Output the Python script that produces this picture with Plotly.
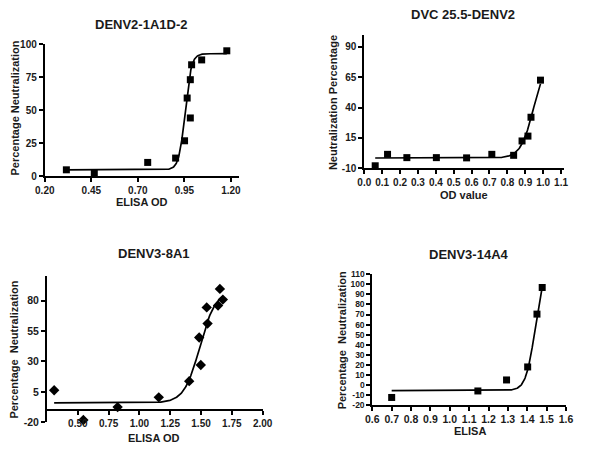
import numpy as np
import plotly.graph_objects as go

W, H = 591, 458

# ---------------- data ----------------
p1_title = "DENV2-1A1D-2"
p1_x = [0.316, 0.466, 0.753, 0.903, 0.951, 0.965, 0.982, 0.982, 0.989, 1.043, 1.178]
p1_y = [5.0, 2.5, 10.6, 13.9, 27.0, 59.4, 73.3, 44.3, 84.6, 88.3, 95.2]
p1_fit = dict(bottom=5.0, top=93.0, ec50=0.954, hill=25.8)
p1_xticks = [0.20, 0.45, 0.70, 0.95, 1.20]
p1_yticks = [0, 25, 50, 75, 100]

p2_title = "DVC 25.5-DENV2"
p2_x = [0.061, 0.130, 0.238, 0.403, 0.572, 0.713, 0.835, 0.882, 0.915, 0.932, 0.985]
p2_y = [-7.9, 1.5, -1.2, -1.2, -1.4, 1.5, 0.7, 12.5, 16.5, 32.0, 62.5]
p2_fit = dict(bottom=-1.5, top=80.0, ec50=0.946, hill=12.1)
p2_xticks = [0.0, 0.1, 0.2, 0.3, 0.4, 0.5, 0.6, 0.7, 0.8, 0.9, 1.0, 1.1]
p2_yticks = [-10, 15, 40, 65, 90]

p3_title = "DENV3-8A1"
p3_x = [0.308, 0.545, 0.823, 1.157, 1.404, 1.485, 1.498, 1.546, 1.553, 1.638, 1.653, 1.677]
p3_y = [6.3, -18.1, -7.5, 0.5, 13.8, 49.7, 27.1, 74.4, 61.1, 76.0, 89.6, 80.8]
p3_fit = dict(bottom=-4.0, top=88.0, ec50=1.49, hill=6.8)
p3_xticks = [0.50, 0.75, 1.00, 1.25, 1.50, 1.75, 2.00]
p3_yticks = [-20, 5, 30, 55, 80]

p4_title = "DENV3-14A4"
p4_x = [0.70, 1.145, 1.293, 1.402, 1.450, 1.477]
p4_y = [-12.9, -6.4, 4.6, 17.6, 70.4, 97.0]
p4_fit = dict(bottom=-6.0, top=120.0, ec50=1.441, hill=18.3)
p4_xticks = [0.6, 0.7, 0.8, 0.9, 1.0, 1.1, 1.2, 1.3, 1.4, 1.5, 1.6]
p4_yticks = list(range(-20, 111, 10))


def logistic(xs, p):
    xs = np.asarray(xs)
    return p["bottom"] + (p["top"] - p["bottom"]) / (1 + 10 ** ((p["ec50"] - xs) * p["hill"]))


def px_dom_x(a, b):
    return [a / W, b / W]


def px_dom_y(top, bottom):
    return [1 - bottom / H, 1 - top / H]


def bold_labels(vals, fmt):
    return [f"<b>{format(v, fmt)}</b>" for v in vals]


FONT = "Liberation Sans"
fig = go.Figure()

panels = [
    dict(x=p1_x, y=p1_y, fit=p1_fit, sym="square", xd=px_dom_x(36, 237.3), yd=px_dom_y(39.5, 175),
         xr=[0.2, 1.245], yr=[0, 100], xt=p1_xticks, yt=p1_yticks, xf=".2f", xfs=10, yfs=10),
    dict(x=p2_x, y=p2_y, fit=p2_fit, sym="square", xd=px_dom_x(366.7, 573.3), yd=px_dom_y(29.3, 166.7),
         xr=[0.0, 1.116], yr=[-10, 100], xt=p2_xticks, yt=p2_yticks, xf=".1f", xfs=10, yfs=10),
    dict(x=p3_x, y=p3_y, fit=p3_fit, sym="diamond", xd=px_dom_x(38.3, 261.5), yd=px_dom_y(277.5, 427.5),
         xr=[0.25, 2.0], yr=[-20, 100], xt=p3_xticks, yt=p3_yticks, xf=".2f", xfs=10, yfs=10.5),
    dict(x=p4_x, y=p4_y, fit=p4_fit, sym="square", xd=px_dom_x(375, 575.5), yd=px_dom_y(275.7, 409.3),
         xr=[0.6, 1.6], yr=[-20, 110], xt=p4_xticks, yt=p4_yticks, xf=".1f", xfs=10.5, yfs=8.5),
]

layout = {}
for i, p in enumerate(panels, start=1):
    xa = "x" if i == 1 else f"x{i}"
    ya = "y" if i == 1 else f"y{i}"
    xs = np.linspace(min(p["x"]), max(p["x"]), 300)
    fig.add_trace(go.Scatter(x=xs, y=logistic(xs, p["fit"]), mode="lines",
                             line=dict(color="black", width=1.7), xaxis=xa, yaxis=ya,
                             showlegend=False, hoverinfo="skip"))
    fig.add_trace(go.Scatter(x=p["x"], y=p["y"], mode="markers",
                             marker=dict(symbol=p["sym"], size=7 if p["sym"] == "square" else 8,
                                         color="black"),
                             xaxis=xa, yaxis=ya, showlegend=False, cliponaxis=False))
    xkey = "xaxis" if i == 1 else f"xaxis{i}"
    ykey = "yaxis" if i == 1 else f"yaxis{i}"
    xaxis = dict(domain=p["xd"], range=p["xr"], tickvals=p["xt"], ticktext=bold_labels(p["xt"], p["xf"]),
                 showline=True, linecolor="black", linewidth=2, ticks="outside",
                 ticklen=4, tickwidth=1.5, tickcolor="black", showgrid=False, zeroline=False,
                 tickfont=dict(family=FONT, size=p["xfs"], color="#1a1a1a"),
                 anchor=ya)
    yaxis = dict(domain=p["yd"], range=p["yr"], tickvals=p["yt"], ticktext=bold_labels(p["yt"], "d"),
                 showline=True, linecolor="black", linewidth=2, ticks="outside",
                 ticklen=4, tickwidth=1.5, tickcolor="black", showgrid=False, zeroline=False,
                 tickfont=dict(family=FONT, size=p["yfs"], color="#1a1a1a"),
                 anchor=xa)
    if i == 3:
        # x axis crosses the y axis at -10
        yd = p["yd"]
        frac = (-10 - p["yr"][0]) / (p["yr"][1] - p["yr"][0])
        xaxis["anchor"] = "free"
        xaxis["position"] = yd[0] + frac * (yd[1] - yd[0])
    layout[xkey] = xaxis
    layout[ykey] = yaxis

fig.update_layout(**layout)

# titles and axis labels (pixel-positioned)
texts = [
    (p1_title, 136, 19, 13, 0), ("ELISA OD", 136.7, 201.7, 11, 0), ("Percentage Neutralization", 5.5, 105, 11, -90),
    (p2_title, 469, 8.5, 13, 0), ("OD value", 470, 194, 11, 0), ("Neutralization Percentage", 335, 99, 11, -90),
    (p3_title, 149, 254, 13, 0), ("ELISA OD", 149.3, 444, 11, 0), ("Percentage&nbsp;&nbsp;Neutralization", 4, 353, 11, -90),
    (p4_title, 475, 255, 13, 0), ("ELISA", 476, 436, 11, 0), ("Percentage&nbsp;&nbsp;Neutralization", 344, 343, 11, -90),
]
for t, x, y, s, ang in texts:
    fig.add_annotation(text=f"<b>{t}</b>", x=x / W, y=1 - y / H, xref="paper", yref="paper",
                       xanchor="center", yanchor="middle", showarrow=False, textangle=ang,
                       font=dict(family=FONT, size=s, color="#1a1a1a"))

fig.update_layout(width=W, height=H, margin=dict(l=0, r=0, t=0, b=0),
                  paper_bgcolor="white", plot_bgcolor="white", showlegend=False)

fig.write_html("out.html")
